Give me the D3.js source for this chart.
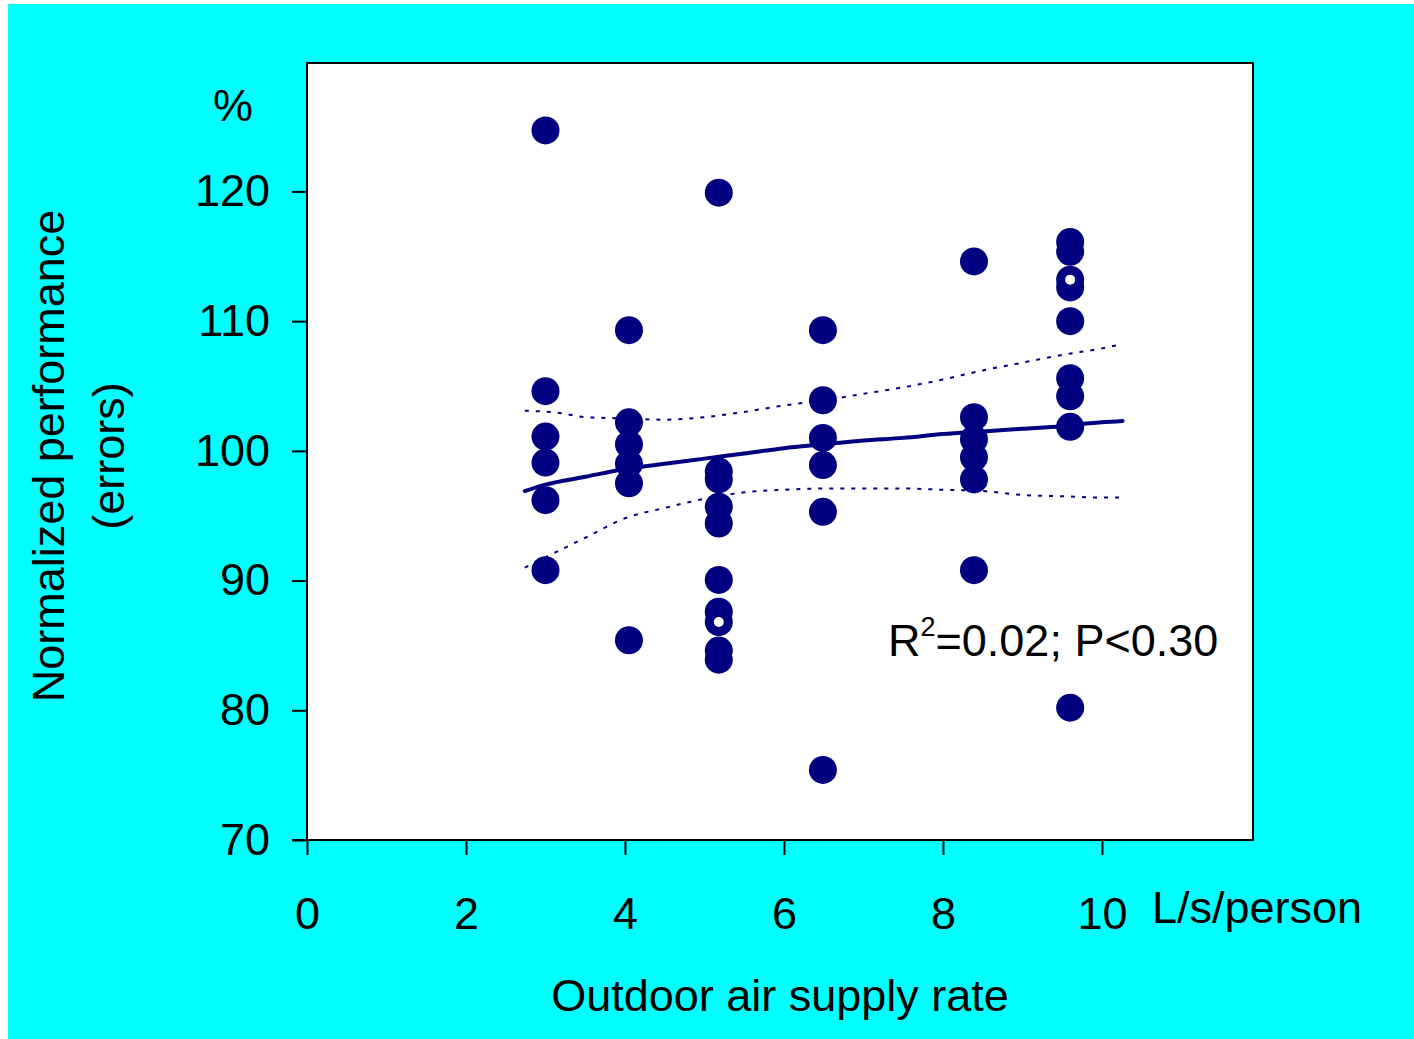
<!DOCTYPE html>
<html>
<head>
<meta charset="utf-8">
<script src="https://cdn.jsdelivr.net/npm/d3@7"></script>
<style>
  html, body { margin: 0; padding: 0; background: #fff; }
  svg text { font-family: "Liberation Sans", Arial, sans-serif; fill: #000; }
</style>
</head>
<body>
<div id="chart-container"></div>
<script>
// measured points (air supply rate L/s/person, normalized performance %)
const pointX = [3.0, 3.0, 3.0, 3.0, 3.0, 3.0,
  4.05, 4.05, 4.05, 4.05, 4.05, 4.05,
  5.18, 5.18, 5.18, 5.18, 5.18, 5.18, 5.18, 5.18, 5.18, 5.18,
  6.49, 6.49, 6.49, 6.49, 6.49, 6.49,
  8.39, 8.39, 8.39, 8.39, 8.39, 8.39,
  9.6, 9.6, 9.6, 9.6, 9.6, 9.6, 9.6, 9.6, 9.6];
const pointY = [124.7, 104.6, 101.1, 99.1, 96.2, 90.8,
  109.3, 102.2, 100.5, 99.0, 97.5, 85.4,
  119.9, 98.4, 97.8, 95.7, 94.4, 90.05, 87.6, 86.8, 84.6, 83.9,
  109.3, 103.9, 101.0, 98.9, 95.3, 75.4,
  114.6, 102.6, 100.9, 99.5, 97.8, 90.8,
  116.1, 115.35, 113.2, 112.6, 110.0, 105.6, 104.2, 101.85, 80.2];
// points drawn with a white centre
const hollowX = [5.18, 9.6];
const hollowY = [86.8, 113.2];

// fitted line and confidence limits
const fitX = [2.74, 3.0, 3.5, 4.0, 4.5, 5.0, 5.5, 6.0, 6.5, 7.0, 7.5, 8.0, 8.5, 9.0, 9.5, 9.8, 10.0, 10.26];
const fitY = [96.9, 97.4, 98.0, 98.6, 99.0, 99.4, 99.8, 100.2, 100.5, 100.8, 101.0, 101.3, 101.5, 101.7, 101.9, 102.1, 102.2, 102.3];
const bandX = [2.74, 3.2, 3.5, 4.0, 4.5, 5.0, 5.5, 6.0, 6.5, 7.0, 7.5, 8.0, 8.5, 9.0, 9.5, 10.0, 10.23];
const upperY = [103.1, 102.9, 102.6, 102.5, 102.4, 102.6, 103.0, 103.5, 103.9, 104.4, 104.9, 105.5, 106.2, 106.8, 107.4, 107.9, 108.2];
const lowerY = [91.0, 92.4, 93.3, 94.8, 95.6, 96.3, 96.8, 97.0, 97.1, 97.1, 97.1, 97.0, 96.9, 96.6, 96.5, 96.4, 96.4];

const xTicks = [0, 2, 4, 6, 8, 10];
const yTicks = [70, 80, 90, 100, 110, 120];

const W = 1414, H = 1039;
const margin = { top: 63, right: 161, bottom: 199, left: 307 };
const width = W - margin.left - margin.right,
      height = H - margin.top - margin.bottom;
const navy = '#000080';
const fs = '45px';

const svg = d3.select('#chart-container')
  .append('svg')
  .attr('width', W)
  .attr('height', H);

// cyan background
svg.append('rect')
  .attr('x', 8).attr('y', 4)
  .attr('width', W - 8).attr('height', H - 4)
  .attr('fill', '#00FFFF');

const g = svg.append('g')
  .attr('transform', `translate(${margin.left},${margin.top})`);

const x = d3.scaleLinear().domain([0, 11.9]).range([0, width]);
const y = d3.scaleLinear().domain([70, 129.9]).range([height, 0]);

g.append('rect')
  .attr('width', width).attr('height', height)
  .attr('fill', '#fff');

// axes
const xAxis = g.append('g')
  .attr('transform', `translate(0,${height})`)
  .call(d3.axisBottom(x).tickValues(xTicks).tickSize(15).tickPadding(42).tickFormat(d3.format('d')));
const yAxis = g.append('g')
  .call(d3.axisLeft(y).tickValues(yTicks).tickSize(15).tickPadding(22).tickFormat(d3.format('d')));
[xAxis, yAxis].forEach(a => {
  a.select('.domain').remove();
  a.selectAll('line').attr('stroke', '#000').attr('stroke-width', 2);
  a.selectAll('text').style('font-size', fs).style('font-family', '"Liberation Sans", Arial, sans-serif');
});
// extend x axis line to the left under the 70 tick
g.append('line')
  .attr('x1', -15).attr('x2', 0)
  .attr('y1', height).attr('y2', height)
  .attr('stroke', '#000').attr('stroke-width', 2);

// confidence limits
const bandLine = d3.line().x(d => x(d[0])).y(d => y(d[1])).curve(d3.curveMonotoneX);
[upperY, lowerY].forEach(arr => {
  g.append('path')
    .datum(bandX.map((v, i) => [v, arr[i]]))
    .attr('d', bandLine)
    .attr('fill', 'none')
    .attr('stroke', navy)
    .attr('stroke-width', 2)
    .attr('stroke-dasharray', '4,7');
});

// regression line
g.append('path')
  .datum(fitX.map((v, i) => [v, fitY[i]]))
  .attr('d', bandLine)
  .attr('fill', 'none')
  .attr('stroke', navy)
  .attr('stroke-width', 4)
  .attr('stroke-linecap', 'round');

// data points
g.selectAll('circle.pt')
  .data(pointX.map((v, i) => [v, pointY[i]]))
  .enter()
  .append('circle')
  .attr('class', 'pt')
  .attr('cx', d => x(d[0]))
  .attr('cy', d => y(d[1]))
  .attr('r', 14)
  .attr('fill', navy);

g.selectAll('circle.hole')
  .data(hollowX.map((v, i) => [v, hollowY[i]]))
  .enter()
  .append('circle')
  .attr('class', 'hole')
  .attr('cx', d => x(d[0]))
  .attr('cy', d => y(d[1]))
  .attr('r', 5)
  .attr('fill', '#fff');

// plot frame
g.append('rect')
  .attr('width', width).attr('height', height)
  .attr('fill', 'none')
  .attr('stroke', '#000')
  .attr('stroke-width', 2);

// texts
svg.append('text')
  .attr('x', 233).attr('y', 121)
  .attr('text-anchor', 'middle')
  .style('font-size', fs)
  .text('%');

svg.append('text')
  .attr('x', 1152).attr('y', 923)
  .style('font-size', fs)
  .text('L/s/person');

svg.append('text')
  .attr('x', 780).attr('y', 1011)
  .attr('text-anchor', 'middle')
  .style('font-size', fs)
  .text('Outdoor air supply rate');

const yl = svg.append('text')
  .attr('transform', 'translate(64,456) rotate(-90)')
  .attr('text-anchor', 'middle')
  .style('font-size', fs);
yl.append('tspan').attr('x', 0).attr('dy', 0).text('Normalized performance');
yl.append('tspan').attr('x', 0).attr('dy', 60).text('(errors)');

const ann = svg.append('text')
  .attr('x', 888).attr('y', 656)
  .style('font-size', fs);
ann.append('tspan').text('R');
ann.append('tspan').attr('dy', -20).style('font-size', '27px').text('2');
ann.append('tspan').attr('dy', 20).text('=0.02; P<0.30');
</script>
</body>
</html>
